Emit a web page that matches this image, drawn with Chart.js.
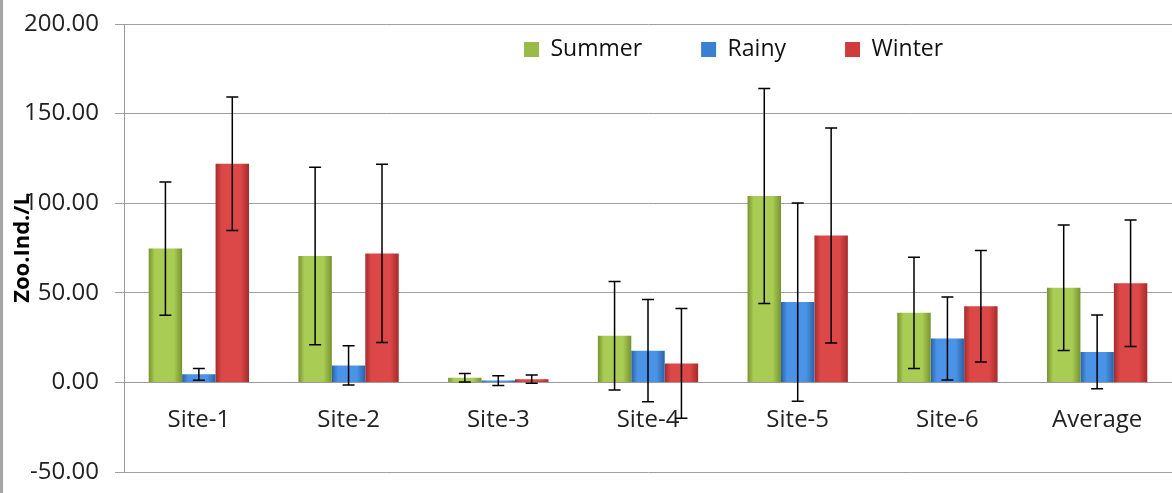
<!DOCTYPE html>
<html>
<head>
  <title>Zooplankton density by site and season</title>
  <style>
    body {
      margin: 0;
      background: #fff;
    }
    #wrap {
      position: relative;
      width: 1172px;
      height: 493px;
    }
    #wrap::after {
      content: '';
      position: absolute;
      left: 0;
      top: 0;
      bottom: 0;
      width: 3px;
      background: #a6a6a6;
    }
  </style>
</head>
<body>
  <div id="wrap">
    <canvas id="chart" width="1172" height="493"></canvas>
  </div>

  <script src="https://cdn.jsdelivr.net/npm/chart.js"></script>
  <script>
    // values (mean and +/- error)
    const categories = ['Site-1', 'Site-2', 'Site-3', 'Site-4', 'Site-5', 'Site-6', 'Average'];
    const seriesNames = ['Summer', 'Rainy', 'Winter'];
    const summer = [74.7, 70.5, 2.6, 26.0, 104.0, 38.8, 52.8];
    const summerErr = [37.2, 49.5, 2.4, 30.3, 60.0, 31.0, 35.0];
    const rainy = [4.5, 9.5, 1.0, 17.7, 44.8, 24.5, 17.0];
    const rainyErr = [3.3, 11.0, 2.7, 28.5, 55.3, 23.2, 20.6];
    const winter = [122.0, 72.0, 1.8, 10.6, 82.0, 42.5, 55.3];
    const winterErr = [37.3, 49.7, 2.3, 30.6, 60.0, 31.1, 35.3];
    const yTicks = [-50, 0, 50, 100, 150, 200];

    const FONT = "'Open Sans', sans-serif";
    const CAT_PCT = 0.67;
    const solid = ['#9bbb48', '#3a80d2', '#d03c3c'];
    const shades = [
      { dark: '#76932f', light: '#a9cc55' },
      { dark: '#2a62a8', light: '#4a93e6' },
      { dark: '#a52b2b', light: '#dc4747' }
    ];

    // horizontal bevel-like gradient, positioned from the category scale
    function barFill(k) {
      return function (c) {
        const xs = c.chart.scales.x;
        if (!xs || !xs.width) return solid[k];
        const center = xs.getPixelForValue(c.dataIndex);
        const group = (xs.width / categories.length) * CAT_PCT;
        const bw = group / 3;
        const left = center - group / 2 + c.datasetIndex * bw;
        const g = c.chart.ctx.createLinearGradient(left, 0, left + bw, 0);
        g.addColorStop(0, shades[k].dark);
        g.addColorStop(0.18, shades[k].light);
        g.addColorStop(0.75, shades[k].light);
        g.addColorStop(1, shades[k].dark);
        return g;
      };
    }

    const errorBars = {
      id: 'errorBars',
      afterDatasetsDraw(chart) {
        const ctx = chart.ctx;
        const y = chart.scales.y;
        ctx.save();
        ctx.strokeStyle = '#000';
        ctx.lineWidth = 1.5;
        chart.data.datasets.forEach((ds, i) => {
          chart.getDatasetMeta(i).data.forEach((bar, j) => {
            const v = ds.data[j];
            const e = ds.errors[j];
            const top = y.getPixelForValue(v + e);
            const bot = y.getPixelForValue(v - e);
            ctx.beginPath();
            ctx.moveTo(bar.x, top);
            ctx.lineTo(bar.x, bot);
            ctx.moveTo(bar.x - 6, top);
            ctx.lineTo(bar.x + 6, top);
            ctx.moveTo(bar.x - 6, bot);
            ctx.lineTo(bar.x + 6, bot);
            ctx.stroke();
          });
        });
        ctx.restore();
      }
    };

    // legend floats inside the plot: take no layout height, then move it
    const legendFloat = {
      id: 'legendFloat',
      beforeLayout(chart) {
        const lg = chart.legend;
        if (lg && !lg._floating) {
          const fit = lg.fit;
          lg.fit = function () {
            fit.call(this);
            this.height = 0;
          };
          lg._floating = true;
        }
      },
      afterLayout(chart) {
        const lg = chart.legend;
        const pad = lg.options.labels.padding;
        lg.left = 524 - pad;
        lg.right = chart.width;
        lg.top = 38 - pad;
        lg.bottom = lg.top + 2 * pad + 40;
      }
    };

    const chart = new Chart(document.getElementById('chart'), {
      type: 'bar',
      data: {
        labels: categories,
        datasets: [
          { label: seriesNames[0], data: summer, errors: summerErr, backgroundColor: barFill(0) },
          { label: seriesNames[1], data: rainy, errors: rainyErr, backgroundColor: barFill(1) },
          { label: seriesNames[2], data: winter, errors: winterErr, backgroundColor: barFill(2) }
        ]
      },
      options: {
        responsive: false,
        animation: false,
        devicePixelRatio: 1,
        layout: { autoPadding: false, padding: { left: 0, right: 0, top: 24, bottom: 21 } },
        datasets: {
          bar: { categoryPercentage: CAT_PCT, barPercentage: 1, borderWidth: 0 }
        },
        scales: {
          x: {
            position: { y: 0 },
            grid: { display: false },
            border: { display: true, color: '#999', width: 1 },
            ticks: { color: '#222', font: { family: FONT, size: 24 }, padding: 15 }
          },
          y: {
            min: yTicks[0],
            max: yTicks[yTicks.length - 1],
            afterBuildTicks(axis) {
              axis.ticks = yTicks.map(v => ({ value: v }));
            },
            afterFit(axis) {
              axis.width = 124;
              axis.paddingTop = 0;
              axis.paddingBottom = 0;
            },
            grid: { color: '#a0a0a0', lineWidth: 1, tickLength: 9 },
            border: { display: true, color: '#999', width: 1 },
            ticks: {
              color: '#222',
              padding: 16,
              font: { family: FONT, size: 24 },
              callback: v => Number(v).toFixed(2)
            },
            title: {
              display: true,
              text: 'Zoo.Ind./L',
              color: '#000',
              padding: { top: 10, bottom: 0 },
              font: { family: FONT, size: 22, weight: 'bold' }
            }
          }
        },
        plugins: {
          tooltip: { enabled: false },
          legend: {
            position: 'top',
            align: 'start',
            labels: {
              boxWidth: 15,
              boxHeight: 15,
              padding: 59,
              color: '#111',
              font: { family: FONT, size: 23 },
              generateLabels(c) {
                const items = Chart.defaults.plugins.legend.labels.generateLabels(c);
                items.forEach((it, i) => {
                  it.fillStyle = solid[i];
                  it.strokeStyle = solid[i];
                  it.lineWidth = 0;
                });
                return items;
              }
            }
          }
        }
      },
      plugins: [errorBars, legendFloat]
    });
  </script>
</body>
</html>
